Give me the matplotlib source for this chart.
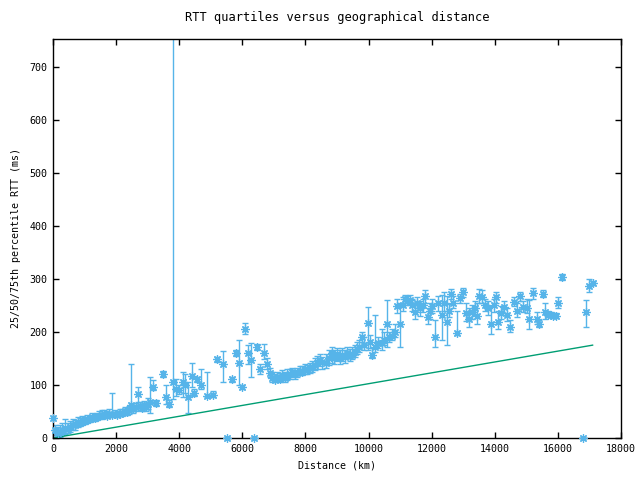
#!/usr/bin/env python3
"""RTT quartiles versus geographical distance (gnuplot-style recreation)."""
import matplotlib
matplotlib.use("Agg")
import matplotlib.pyplot as plt
import numpy as np

# distance (km), median RTT and 25th / 75th percentiles (ms)
dist_km = [
    0, 60, 150, 220, 300, 380, 460, 540, 630, 710, 790, 860, 920, 1000, 1080,
    1160, 1240, 1320, 1390, 1470, 1550, 1630, 1710, 1790, 1870, 1950, 2030,
    2110, 2190, 2270, 2350, 2420, 2470, 2550, 2620, 2700, 2760, 2820, 2880,
    2950, 3020, 3075, 3170, 3260, 3490, 3580, 3680, 3800, 3900, 4000, 4110,
    4190, 4280, 4400, 4470, 4570, 4690, 4880, 5070, 5200, 5390, 5510, 5670,
    5800, 5900, 5990, 6080, 6180, 6270, 6370, 6460, 6560, 6690, 6790, 6880,
    6940, 7020, 7100, 7180, 7260, 7340, 7420, 7500, 7580, 7660, 7740, 7820,
    7900, 7980, 8060, 8140, 8220, 8300, 8380, 8460, 8540, 8650, 8740, 8840,
    8920, 9000, 9080, 9160, 9240, 9320, 9400, 9480, 9560, 9630, 9700, 9790,
    9860, 9980, 10050, 10110, 10200, 10300, 10420, 10500, 10580, 10660, 10740,
    10830, 10900, 11000, 11080, 11150, 11230, 11310, 11390, 11470, 11550,
    11630, 11710, 11790, 11880, 11950, 12010, 12110, 12200, 12330, 12390,
    12490, 12560, 12610, 12680, 12800, 12900, 12990, 13090, 13180, 13280,
    13360, 13440, 13500, 13600, 13690, 13790, 13880, 13960, 14040, 14100,
    14200, 14290, 14390, 14480, 14610, 14700, 14800, 14890, 15020, 15080,
    15210, 15340, 15400, 15530, 15590, 15690, 15780, 15850, 15940, 16000,
    16130, 16800, 16890, 16990, 17110,
]
rtt_p50 = [
    37, 15, 10, 12, 14, 19, 17, 21, 25, 24, 30, 28, 34, 32, 36,
    35, 40, 38, 40, 42, 43, 45, 42, 46, 43, 45, 43,
    46, 47, 50, 49, 53, 62, 55, 58, 83, 60, 57, 62,
    58, 65, 68, 96, 66, 121, 78, 64, 106, 92, 90, 106,
    100, 78, 117, 85, 111, 100, 79, 81, 149, 140, 0, 111,
    160, 141, 96, 206, 160, 147, 0, 172, 130, 160, 140, 123,
    113, 110, 115, 112, 118, 114, 118, 120, 125, 120, 123, 127,
    125, 130, 128, 132, 134, 138, 142, 147, 143, 141, 150, 160,
    150, 158, 150, 157, 152, 160, 155, 157, 162, 168, 172, 191,
    175, 217, 180, 157, 172, 179, 179, 185, 215, 190, 192,
    200, 249, 215, 250, 262, 258, 260, 250, 238, 255,
    245, 250, 268, 228, 240, 249, 191, 255, 232, 255,
    219, 240, 272, 255, 198, 264, 275, 236, 224, 238,
    245, 230, 268, 266, 251, 245, 215, 250, 266, 219,
    236, 247, 232, 209, 257, 240, 268, 247, 245, 224,
    274, 224, 215, 272, 238, 232, 232, 230, 230, 255,
    304, 0, 238, 287, 292,
]
rtt_p25 = [
    37, 5, 3, 2, 6, 8, 10, 12, 15, 16, 20, 22, 25, 26, 28,
    30, 32, 32, 34, 36, 36, 38, 38, 40, 40, 40, 40,
    42, 42, 44, 44, 46, 53, 48, 50, 68, 52, 50, 54,
    50, 55, 47, 90, 60, 115, 65, 58, 74, 80, 82, 78,
    85, 47, 96, 80, 105, 92, 78, 78, 144, 106, 0, 105,
    155, 100, 92, 196, 140, 115, 0, 165, 120, 149, 130, 115,
    105, 105, 108, 105, 110, 106, 110, 112, 115, 112, 115, 118,
    118, 120, 120, 122, 125, 128, 130, 135, 130, 132, 138, 142,
    140, 145, 140, 146, 142, 150, 145, 148, 152, 158, 162, 180,
    165, 166, 170, 150, 162, 170, 165, 175, 172, 180, 185,
    190, 235, 172, 240, 255, 250, 252, 240, 225, 245,
    230, 238, 255, 215, 225, 235, 172, 240, 185, 240,
    175, 228, 262, 245, 195, 255, 265, 220, 210, 225,
    232, 215, 255, 255, 240, 232, 196, 238, 255, 205,
    225, 235, 220, 200, 248, 228, 258, 238, 235, 205,
    262, 215, 210, 265, 225, 228, 228, 226, 226, 245,
    298, 0, 209, 275, 288,
]
rtt_p75 = [
    37, 25, 20, 25, 28, 36, 28, 32, 35, 34, 40, 38, 42, 40, 44,
    42, 48, 46, 48, 50, 52, 52, 50, 54, 85, 52, 50,
    54, 55, 58, 56, 60, 140, 62, 66, 96, 68, 64, 70,
    66, 75, 115, 110, 72, 126, 100, 72, 900, 112, 100, 125,
    120, 106, 141, 92, 115, 130, 125, 88, 153, 164, 0, 115,
    165, 185, 100, 217, 175, 179, 0, 177, 140, 177, 150, 132,
    125, 120, 125, 122, 128, 124, 130, 130, 132, 128, 132, 135,
    136, 140, 138, 142, 145, 150, 155, 158, 152, 158, 165, 172,
    165, 170, 165, 170, 165, 172, 168, 172, 176, 180, 185, 200,
    190, 247, 195, 170, 232, 190, 205, 200, 260, 200, 205,
    215, 262, 255, 265, 270, 268, 270, 262, 250, 265,
    258, 262, 278, 245, 255, 262, 223, 268, 270, 275,
    268, 252, 280, 268, 240, 272, 282, 255, 245, 250,
    258, 255, 280, 278, 262, 258, 248, 262, 275, 240,
    248, 258, 245, 222, 265, 255, 275, 258, 262, 260,
    282, 238, 222, 278, 255, 240, 238, 236, 235, 265,
    310, 0, 260, 300, 296,
]

# lower bound: speed of light in fibre
bound_km = [0, 17100]
bound_ms = [0, 175]

BLUE = "#56B4E9"
GREEN = "#009E73"

plt.rcParams["font.family"] = ["DejaVu Sans Mono"]
plt.rcParams["font.size"] = 7.2

fig = plt.figure(figsize=(6.4, 4.8), dpi=100)
ax = fig.add_axes([53 / 640, 42 / 480, 568 / 640, 399 / 480])

d = np.array(dist_km)
med = np.array(rtt_p50)
lo = np.array(rtt_p25)
hi = np.array(rtt_p75)

ax.errorbar(d, med, yerr=[med - lo, hi - med], fmt="none", ecolor=BLUE,
            elinewidth=1.0, capsize=2.5, capthick=1.0, zorder=2)
ax.plot(d, med, linestyle="none", marker=(8, 2, 0), markersize=6,
        markeredgewidth=0.9, color=BLUE, clip_on=False, zorder=3)
ax.plot(bound_km, bound_ms, color=GREEN, linewidth=1.0, zorder=2)

ax.set_xlim(0, 18000)
ax.set_ylim(0, 752)
ax.set_xticks(np.arange(0, 18001, 2000))
ax.set_yticks(np.arange(0, 701, 100))
ax.tick_params(direction="in", top=True, right=True, length=4, width=1,
               colors="black", pad=4)
for s in ax.spines.values():
    s.set_linewidth(1.0)
    s.set_color("black")

ax.set_title("RTT quartiles versus geographical distance", pad=13)
ax.set_xlabel("Distance (km)", labelpad=5)
ax.set_ylabel("25/50/75th percentile RTT (ms)", labelpad=6)

fig.savefig("out.png", dpi=100)
